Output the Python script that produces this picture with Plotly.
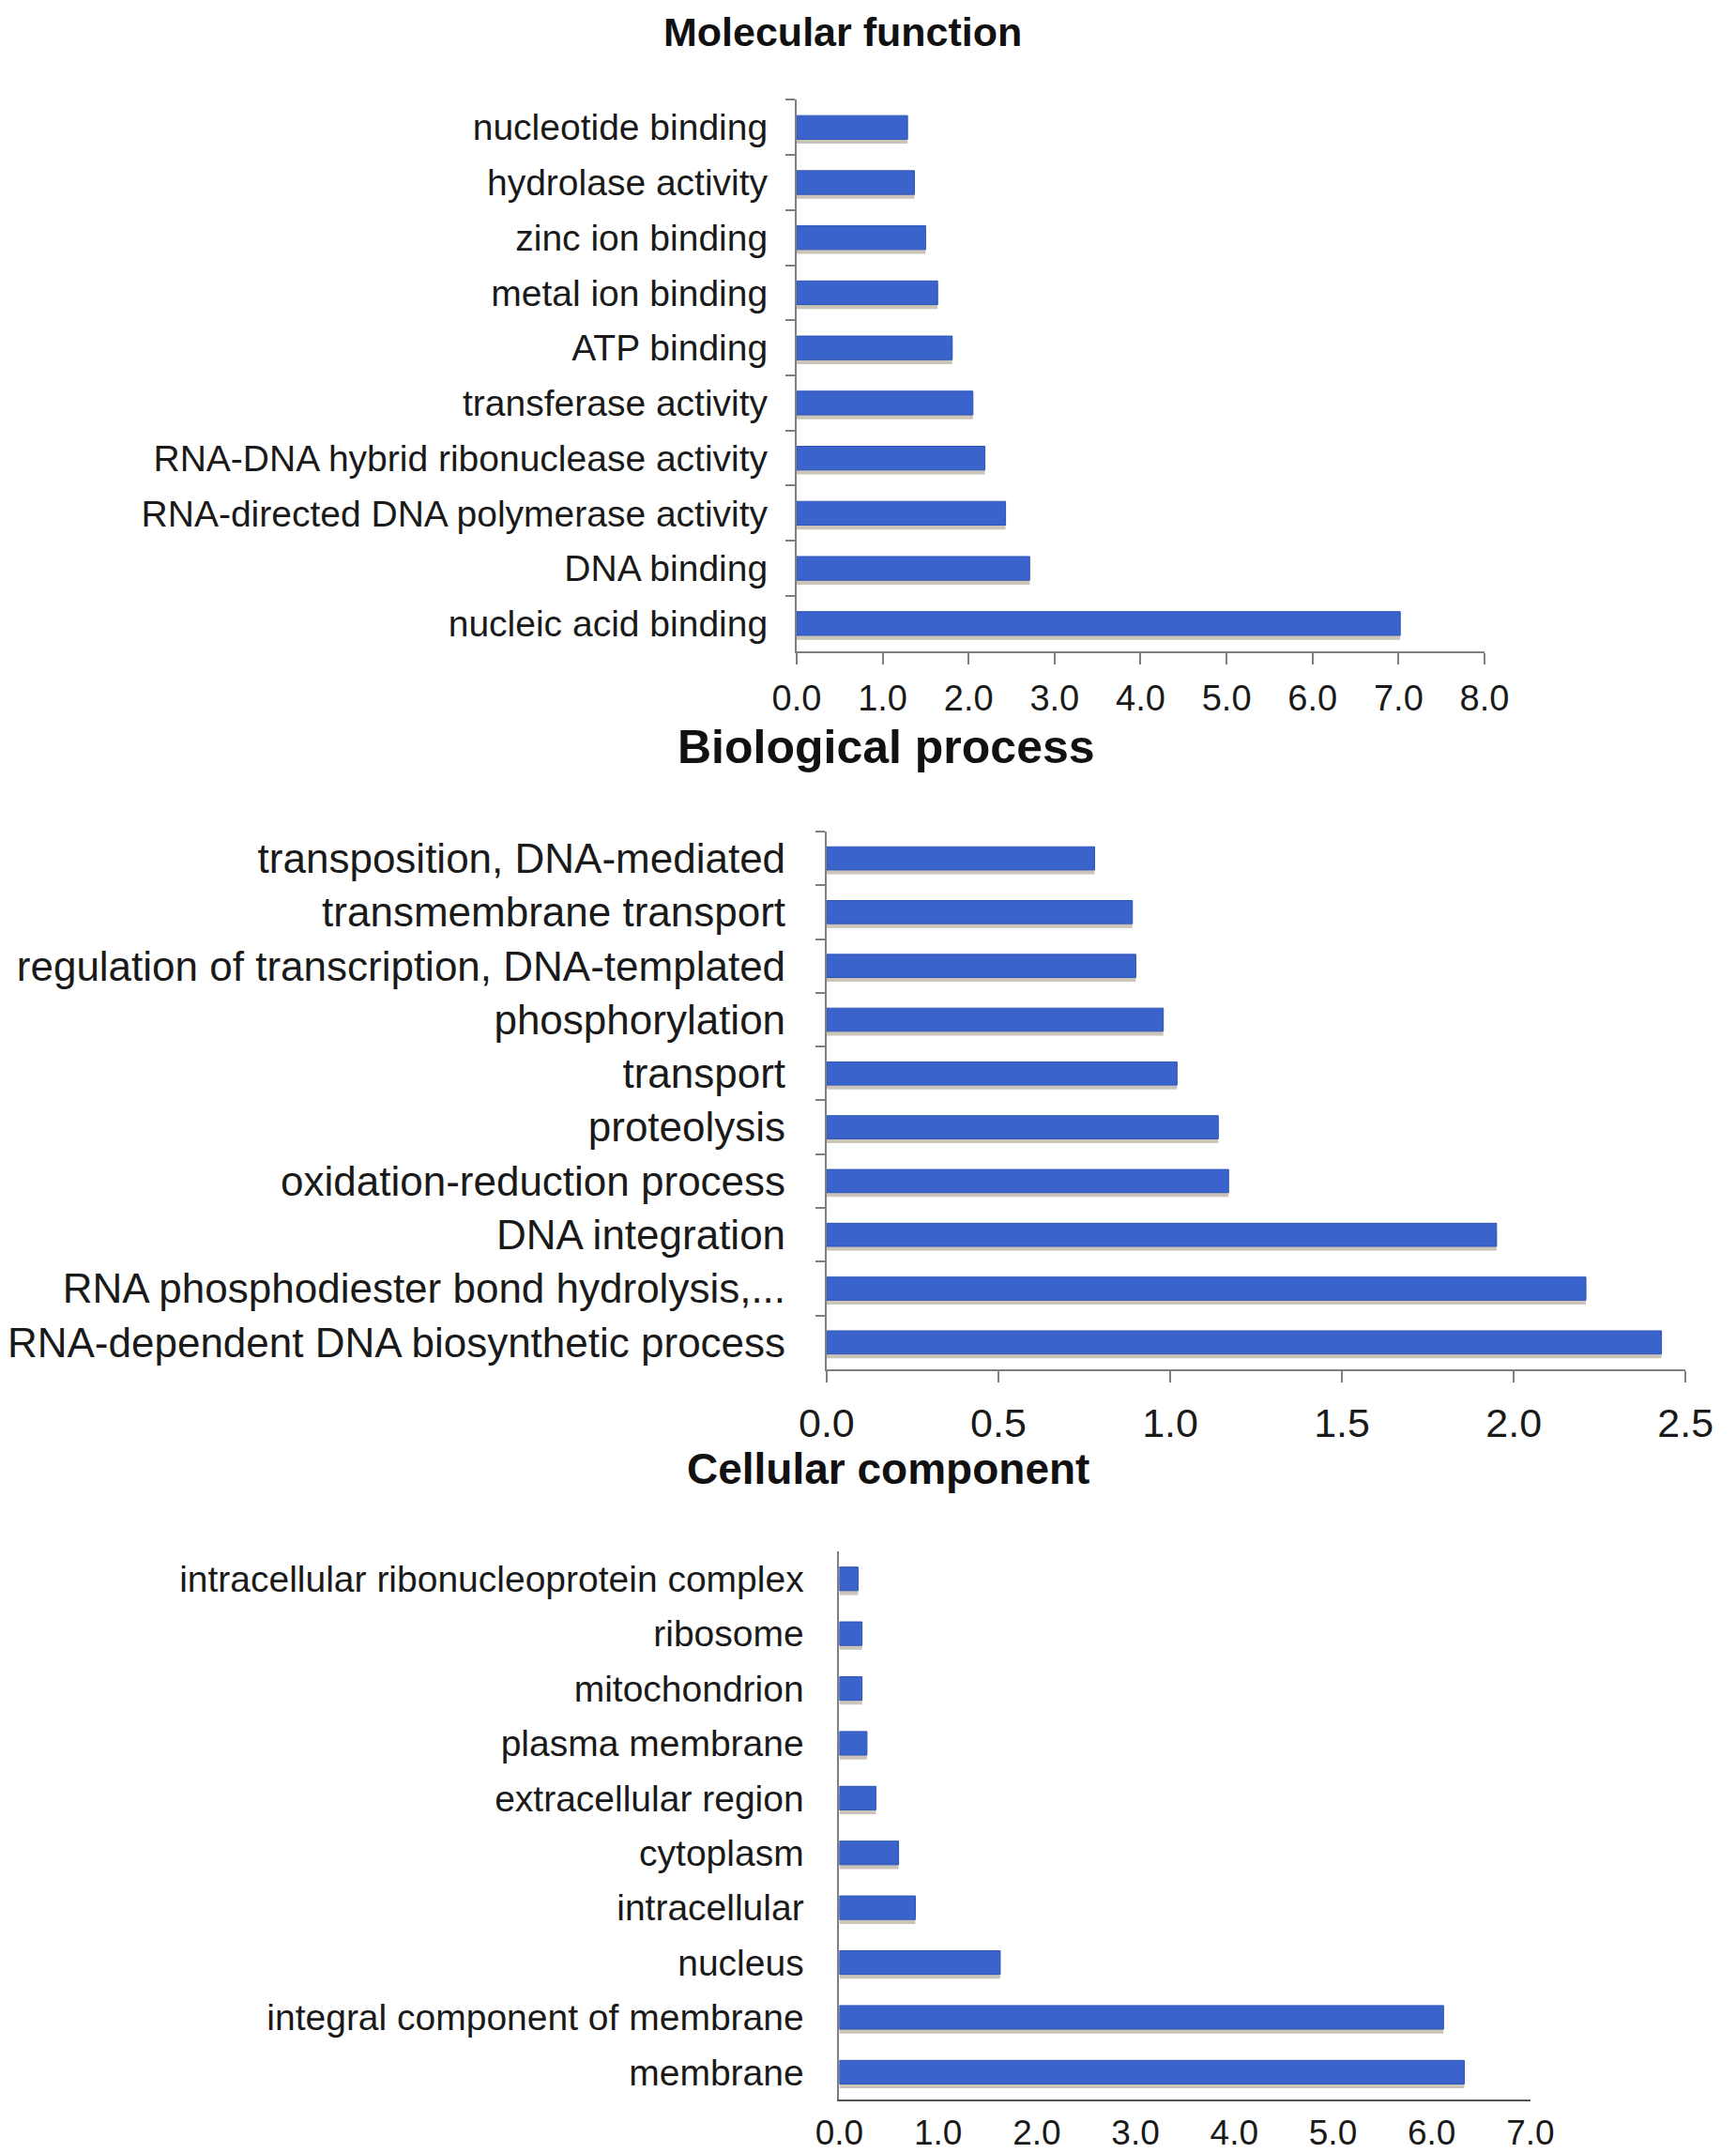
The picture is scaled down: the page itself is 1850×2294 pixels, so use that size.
import plotly.graph_objects as go
from plotly.subplots import make_subplots

# GO term counts, listed top to bottom as drawn
mf_terms = ['nucleotide binding', 'hydrolase activity', 'zinc ion binding', 'metal ion binding',
            'ATP binding', 'transferase activity', 'RNA-DNA hybrid ribonuclease activity',
            'RNA-directed DNA polymerase activity', 'DNA binding', 'nucleic acid binding']
mf_values = [1.29, 1.37, 1.50, 1.64, 1.81, 2.05, 2.19, 2.43, 2.71, 7.02]

bp_terms = ['transposition, DNA-mediated', 'transmembrane transport',
            'regulation of transcription, DNA-templated', 'phosphorylation', 'transport',
            'proteolysis', 'oxidation-reduction process', 'DNA integration',
            'RNA phosphodiester bond hydrolysis,...', 'RNA-dependent DNA biosynthetic process']
bp_values = [0.78, 0.89, 0.90, 0.98, 1.02, 1.14, 1.17, 1.95, 2.21, 2.43]

cc_terms = ['intracellular ribonucleoprotein complex', 'ribosome', 'mitochondrion', 'plasma membrane',
            'extracellular region', 'cytoplasm', 'intracellular', 'nucleus',
            'integral component of membrane', 'membrane']
cc_values = [0.19, 0.23, 0.23, 0.28, 0.37, 0.60, 0.77, 1.63, 6.12, 6.33]

titles = ['Molecular function', 'Biological process', 'Cellular component']

BAR = '#3b63cc'
SHADOW = 'rgba(150, 138, 115, 0.5)'
AXIS = '#7f7f7f'
FONT = 'Liberation Sans, Arial, sans-serif'

fig = make_subplots(rows=3, cols=1)

panels = [(mf_terms, mf_values), (bp_terms, bp_values), (cc_terms, cc_values)]
for i, (terms, vals) in enumerate(panels, start=1):
    # soft drop shadow under each bar, like the Excel original
    fig.add_trace(go.Bar(x=vals, y=terms, orientation='h', width=0.43, offset=-0.215 + 0.08,
                         marker=dict(color=SHADOW, line=dict(width=0)), hoverinfo='skip',
                         showlegend=False), row=i, col=1)
    fig.add_trace(go.Bar(x=vals, y=terms, orientation='h', width=0.43,
                         marker=dict(color=BAR, line=dict(color='#2f55b5', width=1)),
                         showlegend=False), row=i, col=1)

fig.update_layout(
    width=1850, height=2294,
    margin=dict(l=0, r=0, t=0, b=0),
    paper_bgcolor='white', plot_bgcolor='white',
    barmode='overlay',
    font=dict(family=FONT, color='#1a1a1a'),
    xaxis=dict(domain=[0.4515, 0.8622], range=[0, 8], dtick=1, tickformat='.1f',
               showgrid=False, zeroline=False, showline=True, linecolor=AXIS, linewidth=2,
               ticks='outside', ticklen=12, tickcolor=AXIS, tickwidth=2,
               tickfont=dict(size=38), ticklabelstandoff=4),
    yaxis=dict(domain=[0.7011, 0.9571], range=[9.5, -0.5], showgrid=False,
               showline=True, linecolor=AXIS, linewidth=2,
               ticks='outside', ticklen=10, tickcolor=AXIS, tickwidth=2, tickson='boundaries',
               tickfont=dict(size=39), ticklabelstandoff=21),
    xaxis2=dict(domain=[0.4694, 0.9822], range=[0, 2.5], dtick=0.5, tickformat='.1f',
                showgrid=False, zeroline=False, showline=True, linecolor=AXIS, linewidth=2,
                ticks='outside', ticklen=12, tickcolor=AXIS, tickwidth=2,
                tickfont=dict(size=43), ticklabelstandoff=6),
    yaxis2=dict(domain=[0.3675, 0.6173], range=[9.5, -0.5], showgrid=False,
                showline=True, linecolor=AXIS, linewidth=2,
                ticks='outside', ticklen=10, tickcolor=AXIS, tickwidth=2, tickson='boundaries',
                tickfont=dict(size=44), ticklabelstandoff=33),
    xaxis3=dict(domain=[0.477, 0.8896], range=[0, 7], dtick=1, tickformat='.1f',
                showgrid=False, zeroline=False, showline=True, linecolor='#555555', linewidth=2,
                ticks='', tickfont=dict(size=37), ticklabelstandoff=2),
    yaxis3=dict(domain=[0.0283, 0.2829], range=[9.5, -0.5], showgrid=False,
                showline=True, linecolor=AXIS, linewidth=2, ticks='',
                tickfont=dict(size=39), ticklabelstandoff=28),
)

# panel titles
title_pos = [(0.479, 0.9885, 43), (0.505, 0.6565, 50), (0.506, 0.3212, 46)]
for text, (x, y, size) in zip(titles, title_pos):
    fig.add_annotation(text='<b>' + text + '</b>', x=x, y=y, xref='paper', yref='paper',
                       xanchor='center', yanchor='middle', showarrow=False,
                       font=dict(size=size, family=FONT, color='#111111'))

fig.write_html('out.html')
